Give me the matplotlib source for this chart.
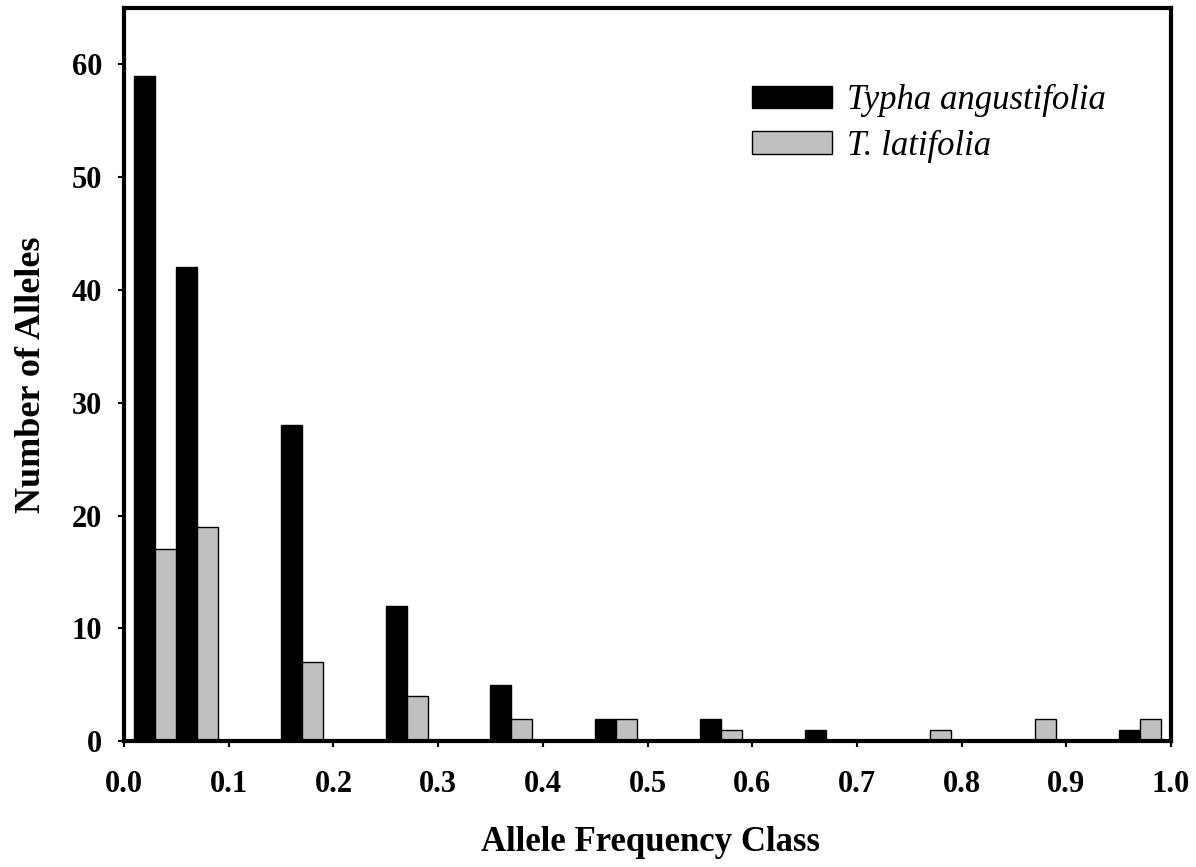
import numpy as np
import matplotlib
matplotlib.use("Agg")
import matplotlib.pyplot as plt
import matplotlib.patches as mpatches

# ─── Data ────────────────────────────────────────────────────────────────────

# frequency classes: two half-width classes below 0.1, then steps of 0.1
class_centres = [0.03, 0.07, 0.17, 0.27, 0.37, 0.47, 0.57, 0.67, 0.77, 0.87, 0.97]
angustifolia = [59, 42, 28, 12, 5, 2, 2, 1, 0, 0, 1]
latifolia = [17, 19, 7, 4, 2, 2, 1, 0, 1, 2, 2]

x_ticks = [0.0, 0.1, 0.2, 0.3, 0.4, 0.5, 0.6, 0.7, 0.8, 0.9, 1.0]
y_ticks = [0, 10, 20, 30, 40, 50, 60]

BAR_W = 0.02
DARK = "#000000"
LIGHT = "#c0c0c0"

plt.rcParams["font.family"] = ["Liberation Serif", "DejaVu Serif"]

# ─── Plot ────────────────────────────────────────────────────────────────────

fig = plt.figure(figsize=(11.96, 8.67), dpi=100)
ax = fig.add_axes([0.1037, 0.145, 0.9791 - 0.1037, 0.9908 - 0.145])

x = np.array(class_centres)
ax.bar(x - BAR_W / 2, angustifolia, width=BAR_W, color=DARK,
       edgecolor="black", linewidth=1.0)
ax.bar(x + BAR_W / 2, latifolia, width=BAR_W, color=LIGHT,
       edgecolor="black", linewidth=1.0)

ax.set_xlim(0, 1.0)
ax.set_ylim(0, 65)
ax.set_xticks(x_ticks)
ax.set_xticklabels([f"{t:.1f}" for t in x_ticks])
ax.set_yticks(y_ticks)

for side in ("left", "bottom", "top", "right"):
    ax.spines[side].set_linewidth(3)

ax.tick_params(axis="both", direction="out", length=4.5, width=1.5,
               labelsize=22)
ax.tick_params(axis="x", pad=16)
ax.tick_params(axis="y", pad=11)
for lab in ax.get_xticklabels() + ax.get_yticklabels():
    lab.set_fontweight("bold")

ax.set_xlabel("Allele Frequency Class", fontsize=25, fontweight="bold")
ax.set_ylabel("Number of Alleles", fontsize=26, fontweight="bold")
ax.xaxis.set_label_coords(0.503, -0.115)
ax.yaxis.set_label_coords(-0.073, 0.5)

dark_patch = mpatches.Patch(facecolor=DARK, edgecolor="black", linewidth=1.0,
                            label="Typha angustifolia")
light_patch = mpatches.Patch(facecolor=LIGHT, edgecolor="black", linewidth=1.0,
                             label="T. latifolia")
leg = ax.legend(handles=[dark_patch, light_patch], loc="upper left",
                bbox_to_anchor=(752 / 1196, 1 - 84 / 867),
                bbox_transform=fig.transFigure, frameon=False,
                prop={"style": "italic", "size": 25},
                handlelength=2.3, handleheight=0.63, handletextpad=0.45,
                labelspacing=0.36, borderpad=0, borderaxespad=0)

fig.savefig("out.png", dpi=100)
plt.close(fig)
